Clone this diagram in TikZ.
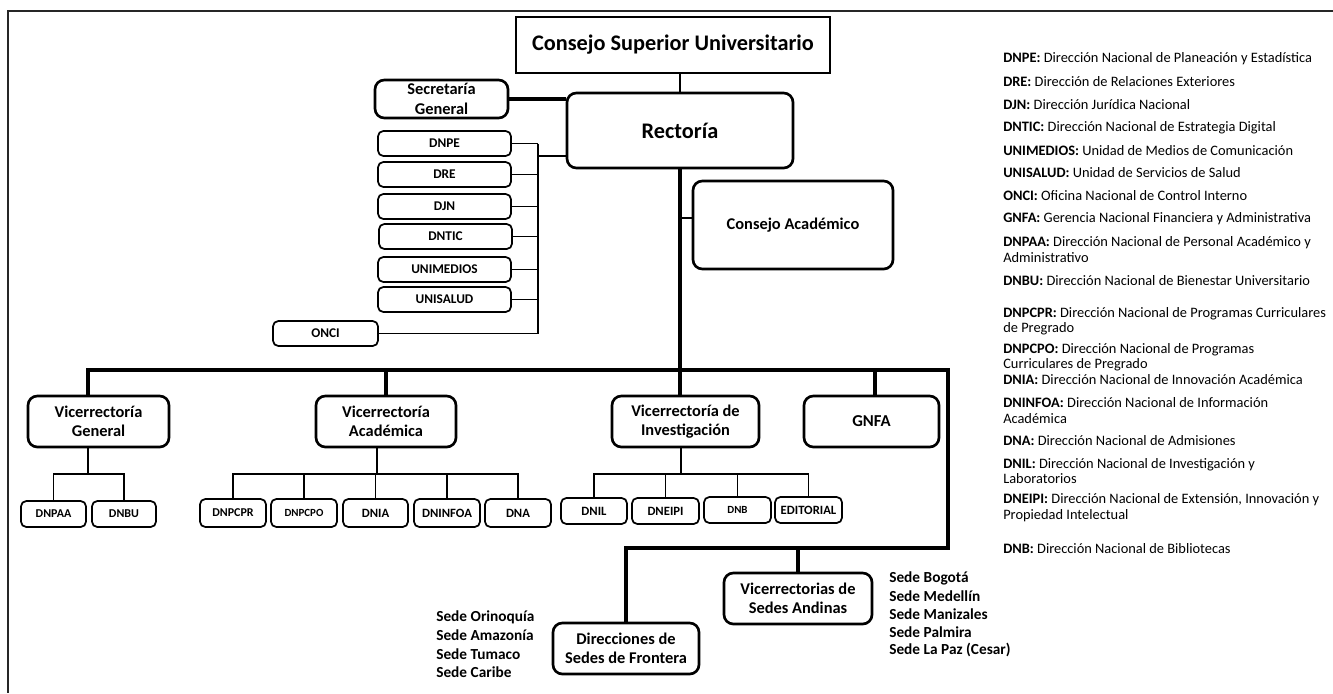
\documentclass[tikz,border=0pt]{standalone}
\usepackage{fontspec}
\setmainfont{Carlito}
\begin{document}
\begin{tikzpicture}[x=0.75pt,y=-0.75pt,
  bx/.style={draw, rounded corners=7pt, line width=2pt, font=\bfseries\fontsize{12.3}{14.5}\selectfont, align=center, inner sep=0pt},
  sbx/.style={draw, rounded corners=4pt, line width=1.3pt, font=\bfseries\fontsize{9.5}{11}\selectfont, inner sep=0pt},
  sz/.style 2 args={minimum width=#1*0.75pt, minimum height=#2*0.75pt},
  thkline/.style={line width=2.3pt},
  thnline/.style={line width=1pt},
  leg/.style={anchor=west, align=left, inner sep=0pt, font=\fontsize{10.8}{11.6}\selectfont},
  sede/.style={anchor=west, inner sep=0pt, font=\bfseries\fontsize{11.5}{13.5}\selectfont}]
\useasboundingbox (0,0) rectangle (1333,693);
% frame
\draw[line width=1.1pt, black!85] (1333,11) -- (8,11) -- (8,693);

% top
\node[draw, line width=1.8pt, sz={314}{56}, inner sep=0pt, font=\bfseries\fontsize{16.7}{19}\selectfont] (csu) at (673,45) {Consejo Superior Universitario};
\node[bx, sz={226}{75}, font=\bfseries\fontsize{16.7}{19}\selectfont] (rect) at (680,130.5) {Rectoría};
\node[bx, sz={133}{38}] (sec) at (441.5,99) {Secretaría\\General};
\node[bx, sz={200}{88}] (ca) at (793,225) {Consejo Académico};

% left stack
\node[sbx, sz={133}{25}, font=\bfseries\fontsize{10}{12}\selectfont] (dnpe) at (444.5,143.5) {DNPE};
\node[sbx, sz={133}{25}, font=\bfseries\fontsize{10}{12}\selectfont] (dre) at (444.5,174.5) {DRE};
\node[sbx, sz={133}{25}, font=\bfseries\fontsize{10}{12}\selectfont] (djn) at (444.5,206.5) {DJN};
\node[sbx, sz={133}{25}, font=\bfseries\fontsize{10}{12}\selectfont] (dntic) at (445.5,236.5) {DNTIC};
\node[sbx, sz={133}{25}, font=\bfseries\fontsize{10}{12}\selectfont] (unimedios) at (444.5,269.5) {UNIMEDIOS};
\node[sbx, sz={133}{25}, font=\bfseries\fontsize{10}{12}\selectfont] (unisalud) at (444.5,299.5) {UNISALUD};
\node[sbx, sz={105}{25}, font=\bfseries\fontsize{10}{12}\selectfont] (onci) at (325.5,333.5) {ONCI};

% second level
\node[bx, sz={141}{51}] (vg) at (98.5,421.5) {Vicerrectoría\\General};
\node[bx, sz={140}{51}] (va) at (386,421.5) {Vicerrectoría\\Académica};
\node[bx, sz={147}{51}] (vi) at (685.5,421.5) {Vicerrectoría de\\Investigación};
\node[bx, sz={135}{51}, font=\bfseries\fontsize{12.5}{15}\selectfont] (gnfa) at (871.5,421.5) {GNFA};

% third level
\node[sbx, sz={65}{26}, font=\bfseries\fontsize{9}{11}\selectfont] (dnpaa) at (53.5,514) {DNPAA};
\node[sbx, sz={64}{26}, font=\bfseries\fontsize{9}{11}\selectfont] (dnbu) at (124,514) {DNBU};
\node[sbx, sz={66}{28}, font=\bfseries\fontsize{9}{11}\selectfont] (dnpcpr) at (233,513) {DNPCPR};
\node[sbx, sz={66}{28}, font=\bfseries\fontsize{8.2}{10}\selectfont] (dnpcpo) at (304,513) {DNPCPO};
\node[sbx, sz={65}{28}] (dnia) at (375.5,513) {DNIA};
\node[sbx, sz={66}{28}] (dninfoa) at (447,513) {DNINFOA};
\node[sbx, sz={66}{28}] (dna) at (518,513) {DNA};
\node[sbx, sz={66}{26}] (dnil) at (594,511) {DNIL};
\node[sbx, sz={67}{26}] (dneipi) at (665.5,511) {DNEIPI};
\node[sbx, sz={67}{26}, font=\bfseries\fontsize{8.2}{10}\selectfont] (dnb) at (737.5,510) {DNB};
\node[sbx, sz={67}{26}] (editorial) at (808.5,510) {EDITORIAL};

% sedes
\node[bx, sz={146}{51}] (dsf) at (626,648.5) {Direcciones de\\Sedes de Frontera};
\node[bx, sz={148}{51}] (vsa) at (798,598.5) {Vicerrectorias de\\Sedes Andinas};

\node[sede] (s1) at (436,617) {Sede Orinoquía};
\node[sede] (s2) at (436,635.5) {Sede Amazonía};
\node[sede] (s3) at (436,654) {Sede Tumaco};
\node[sede] (s4) at (436,672.5) {Sede Caribe};
\node[sede] (a1) at (889,578) {Sede Bogotá};
\node[sede] (a2) at (889,596) {Sede Medellín};
\node[sede] (a3) at (889,614) {Sede Manizales};
\node[sede] (a4) at (889,632) {Sede Palmira};
\node[sede] (a5) at (889,650) {Sede La Paz (Cesar)};

% legend
\node[leg] (l1) at (1003,59) {\textbf{DNPE:} Dirección Nacional de Planeación y Estadística};
\node[leg] (l2) at (1003,82) {\textbf{DRE:} Dirección de Relaciones Exteriores};
\node[leg] (l3) at (1003,105) {\textbf{DJN:} Dirección Jurídica Nacional};
\node[leg] (l4) at (1003,127.5) {\textbf{DNTIC:} Dirección Nacional de Estrategia Digital};
\node[leg] (l5) at (1003,150.5) {\textbf{UNIMEDIOS:} Unidad de Medios de Comunicación};
\node[leg] (l6) at (1003,173) {\textbf{UNISALUD:} Unidad de Servicios de Salud};
\node[leg] (l7) at (1003,196) {\textbf{ONCI:} Oficina Nacional de Control Interno};
\node[leg] (l8) at (1003,219) {\textbf{GNFA:} Gerencia Nacional Financiera y Administrativa};
\node[leg] (l9) at (1003,249.5) {\textbf{DNPAA:} Dirección Nacional de Personal Académico y\\Administrativo};
\node[leg] (l10) at (1003,281) {\textbf{DNBU:} Dirección Nacional de Bienestar Universitario};
\node[leg] (l11) at (1003,321) {\textbf{DNPCPR:} Dirección Nacional de Programas Curriculares\\de Pregrado};
\node[leg] (l12) at (1003,357) {\textbf{DNPCPO:} Dirección Nacional de Programas\\Curriculares de Pregrado};
\node[leg] (l13) at (1003,380) {\textbf{DNIA:} Dirección Nacional de Innovación Académica};
\node[leg] (l14) at (1003,410.5) {\textbf{DNINFOA:} Dirección Nacional de Información\\Académica};
\node[leg] (l15) at (1003,441) {\textbf{DNA:} Dirección Nacional de Admisiones};
\node[leg] (l16) at (1003,471) {\textbf{DNIL:} Dirección Nacional de Investigación y\\Laboratorios};
\node[leg] (l17) at (1003,507.5) {\textbf{DNEIPI:} Dirección Nacional de Extensión, Innovación y\\Propiedad Intelectual};
\node[leg] (l18) at (1003,549) {\textbf{DNB:} Dirección Nacional de Bibliotecas};

% ---- connectors ----
\draw[line width=1.6pt] (csu.south -| rect.north) -- (rect.north);
\draw[thkline] (sec.east) -- (sec.east -| rect.west);
% staff spine
\coordinate (sp) at (538,0);
\coordinate (rl) at (538,156);
\draw[thnline] (dnpe.east -| sp) -- (onci.east -| sp);
\draw[thnline] (rl) -- (rl -| rect.west);
\foreach \n in {dnpe,dre,djn,dntic,unimedios,unisalud,onci}
  \draw[thnline] (\n.east) -- (\n.east -| sp);
% main vertical
\draw[thkline] (rect.south) -- (rect.south |- vi.north);
\draw[line width=1.6pt] (rect.south |- ca.west) ++(0,-7) -- ++(12,0);
% bar
\coordinate (barL) at (88,370);
\coordinate (barR) at (948,370);
\draw[thkline] (barL |- vg.north) -- (barL) -- (barR) -- (barR |- 0,548) -- (dsf.north |- 0,548) -- (dsf.north);
\draw[thkline] (va.north) -- (va.north |- barL);
\draw[thkline] (gnfa.north) ++(3.5,0) -- ++(0,-26);
\draw[thkline] (vsa.north) -- (vsa.north |- 0,548);
% VG subtree
\draw[thnline] (vg.south -| barL) -- (88,474);
\draw[thnline] (dnpaa.north) -- (dnpaa.north |- 0,474) -- (dnbu.north |- 0,474) -- (dnbu.north);
% VA subtree
\draw[thnline] (va.south) ++(-9,0) -- ++(0,27);
\draw[thnline] (dnpcpr.north) -- (dnpcpr.north |- 0,474) -- (dna.north |- 0,474) -- (dna.north);
\foreach \n in {dnpcpo,dnia,dninfoa}
  \draw[thnline] (\n.north) -- (\n.north |- 0,474);
% VI subtree
\draw[thnline] (vi.south) ++(-4.5,0) -- ++(0,27);
\draw[thnline] (dnil.north) -- (dnil.north |- 0,474) -- (editorial.north |- 0,474) -- (editorial.north);
\foreach \n in {dneipi,dnb}
  \draw[thnline] (\n.north) -- (\n.north |- 0,474);
\end{tikzpicture}
\end{document}
